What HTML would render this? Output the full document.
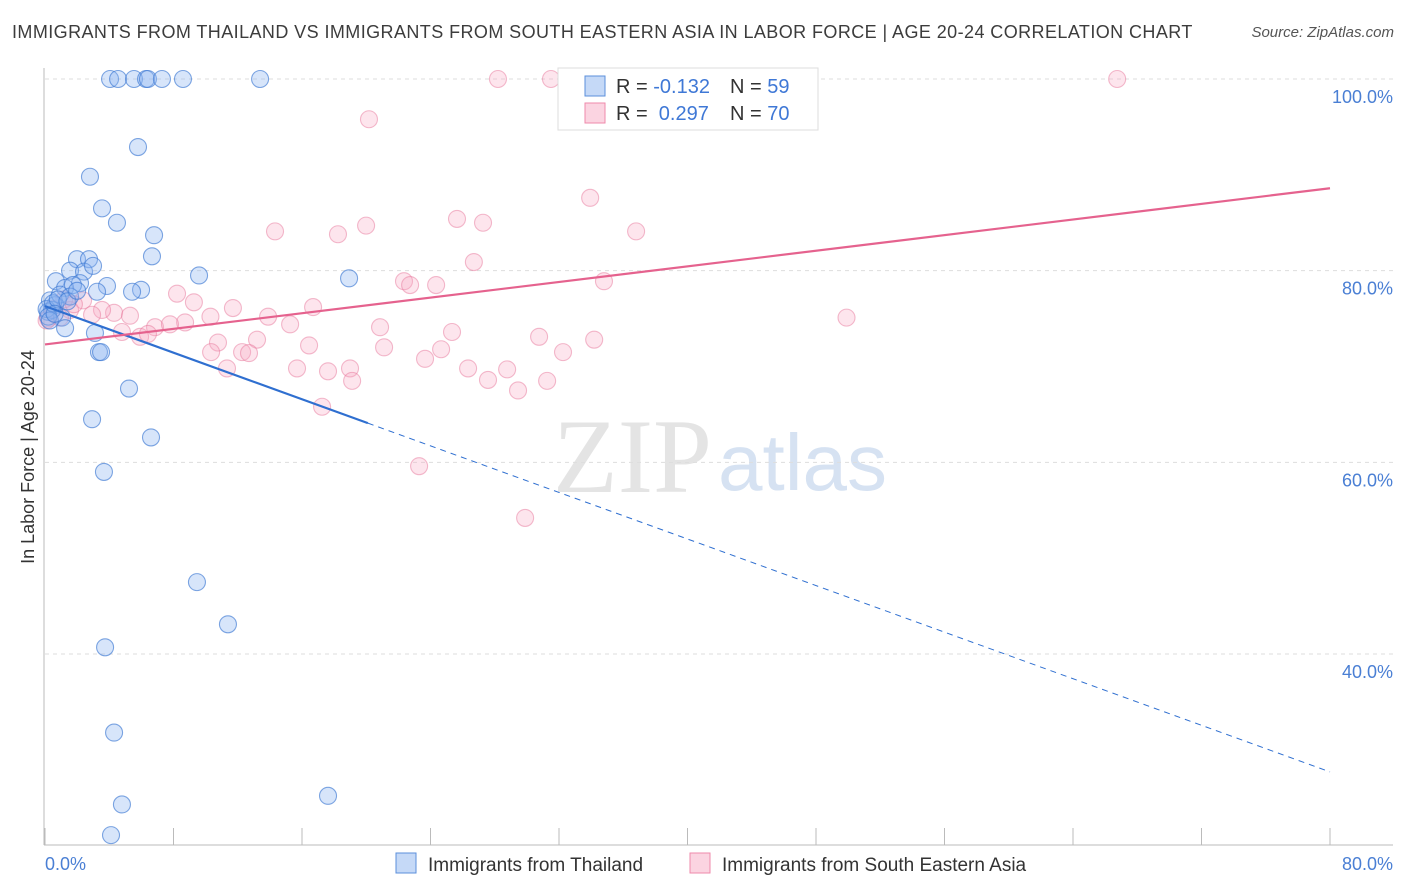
<!DOCTYPE html>
<html><head><meta charset="utf-8"><style>
body{margin:0;background:#fff;font-family:"Liberation Sans",sans-serif}
#wrap{position:relative;width:1406px;height:892px;overflow:hidden}
.t{position:absolute;white-space:nowrap}
</style></head><body>
<div id="wrap">
<div class="t" style="left:12px;top:22px;font-size:18px;color:#3c3c3c;letter-spacing:0.42px">IMMIGRANTS FROM THAILAND VS IMMIGRANTS FROM SOUTH EASTERN ASIA IN LABOR FORCE | AGE 20-24 CORRELATION CHART</div>
<div class="t" style="right:12px;top:24px;font-size:15px;color:#555;font-style:italic">Source: ZipAtlas.com</div>
<svg id="svg" width="1406" height="892" style="position:absolute;left:0;top:0"></svg>
</div>
<script>
const yTicks=[100,80,60,40];
const yTickLabels=["100.0%","80.0%","60.0%","40.0%"];
const xLabels=["0.0%","80.0%"];
const blueX=[4.05,4.55,5.54,6.29,6.41,7.28,8.59,13.39,5.79,2.8,3.55,4.48,6.79,6.66,1.99,2.74,1.56,2.43,2.99,9.59,18.93,0.68,2.18,1.25,1.74,3.86,5.98,5.42,3.24,0.31,0.62,0.93,0.19,1.06,0.44,1.56,1.25,3.11,3.36,3.49,5.23,2.93,6.6,3.67,9.46,11.39,3.74,4.3,4.79,4.11,17.62,0.1,0.2,0.5,0.8,1.4,0.3,2.0,0.6];
const blueY=[100,100,100,100,100,100,100,100,92.9,89.8,86.5,85.0,83.7,81.5,81.2,81.2,80.0,79.9,80.5,79.5,79.2,78.9,78.7,78.2,78.5,78.4,78.0,77.8,77.8,76.9,76.4,77.5,75.7,75.1,75.9,77.3,74.0,73.5,71.5,71.5,67.7,64.5,62.6,59.0,47.5,43.1,40.7,31.8,24.3,21.1,25.2,76.0,75.2,76.6,77.0,76.8,74.8,77.9,75.5];
const pinkX=[28.2,31.5,32.9,66.75,20.17,33.94,25.65,27.27,19.99,18.24,14.32,36.8,26.7,22.35,22.73,24.35,34.8,8.22,9.27,2.37,11.7,16.69,10.3,13.89,49.9,4.3,5.29,3.55,2.93,1.56,0.93,8.72,15.26,20.86,4.79,6.85,7.78,5.92,6.41,25.34,30.76,34.19,10.77,13.2,16.44,21.11,10.34,12.27,12.7,24.66,32.25,23.66,11.33,15.69,18.99,17.62,26.34,28.77,19.12,27.58,31.26,29.45,17.25,23.29,29.89,0.2,0.5,1.2,0.1,1.8];
const pinkY=[100,100,100,100,95.8,87.6,85.4,85.0,84.7,83.8,84.1,84.1,80.9,78.9,78.5,78.5,78.9,77.6,76.7,76.9,76.1,76.2,75.2,75.2,75.1,75.6,75.3,75.9,75.4,75.9,75.1,74.6,74.4,74.1,73.6,74.1,74.4,73.1,73.4,73.6,73.1,72.8,72.5,72.8,72.2,72.0,71.5,71.5,71.4,71.8,71.5,70.8,69.8,69.8,69.8,69.5,69.8,69.7,68.5,68.6,68.5,67.5,65.8,59.6,54.2,75.0,76.0,77.0,74.8,76.5];
const blueTrend=[76.3,27.7];
const pinkTrend=[72.3,88.6];
const blueSolidEnd=20.1;
const X=v=>45+v*(1330-45)/80;
const Y=v=>79+(100-v)*(654-79)/60;
const svg=document.getElementById('svg');const NS='http://www.w3.org/2000/svg';
function mk(t,a){const e=document.createElementNS(NS,t);for(const k in a)e.setAttribute(k,a[k]);svg.appendChild(e);return e;}
let w=mk('text',{x:553,y:492,'font-size':106,'font-family':'Liberation Serif,serif',fill:'#e4e4e4'});w.textContent='ZIP';


w=mk('text',{x:718,y:490,'font-size':80,'font-family':'Liberation Sans,sans-serif',fill:'#d6e2f2'});w.textContent='atlas';


yTicks.forEach((v,i)=>{const l=mk('line',{x1:45,x2:1393,y1:Y(v),y2:Y(v),stroke:'#ddd','stroke-dasharray':'4,4'});


const t=mk('text',{x:1393,y:Y(v)+24,'text-anchor':'end','font-size':18,fill:'#4a7fd4'});t.textContent=yTickLabels[i];

});
let ax=mk('line',{x1:44,x2:44,y1:68,y2:845,stroke:'#bbb'});


ax=mk('line',{x1:44,x2:1393,y1:845,y2:845,stroke:'#bbb'});


for(let i=0;i<=10;i++){const tk=mk('line',{x1:X(i*8),x2:X(i*8),y1:828,y2:845,stroke:'#bbb'});

}
let xl=mk('text',{x:45,y:870,'font-size':18,fill:'#4a7fd4'});xl.textContent=xLabels[0];


xl=mk('text',{x:1393,y:870,'text-anchor':'end','font-size':18,fill:'#4a7fd4'});xl.textContent=xLabels[1];


let yt=mk('text',{x:34,y:457,'font-size':18,fill:'#333',transform:'rotate(-90 34 457)','text-anchor':'middle'});yt.textContent='In Labor Force | Age 20-24';


pinkX.forEach((x,i)=>{const c=mk('circle',{cx:X(x),cy:Y(pinkY[i]),r:8.5,fill:'rgba(248,170,195,0.3)',stroke:'rgba(232,120,155,0.5)','stroke-width':1.1});

});
blueX.forEach((x,i)=>{const c=mk('circle',{cx:X(x),cy:Y(blueY[i]),r:8.5,fill:'rgba(140,180,240,0.35)',stroke:'rgba(60,120,210,0.65)','stroke-width':1.1});

});
const bAt=x=>blueTrend[0]+(blueTrend[1]-blueTrend[0])*x/80;
let tl=mk('line',{x1:X(0),y1:Y(bAt(0)),x2:X(blueSolidEnd),y2:Y(bAt(blueSolidEnd)),stroke:'#2f6fd0','stroke-width':2.2});


tl=mk('line',{x1:X(blueSolidEnd),y1:Y(bAt(blueSolidEnd)),x2:X(80),y2:Y(bAt(80)),stroke:'#2f6fd0','stroke-width':1,'stroke-dasharray':'6,5'});


tl=mk('line',{x1:X(0),y1:Y(pinkTrend[0]),x2:X(80),y2:Y(pinkTrend[1]),stroke:'#e5628e','stroke-width':2.2});


let g=mk('rect',{x:558,y:68,width:260,height:62,fill:'#fff',stroke:'#ddd'});


[[86,'rgba(140,180,240,0.5)','#5b8fdb','-0.132','59'],[113,'rgba(248,170,195,0.5)','#ef8aab',' 0.297','70']].forEach(r=>{
const s=mk('rect',{x:585,y:r[0]-10,width:20,height:20,fill:r[1],stroke:r[2]});


const t=mk('text',{x:616,y:r[0]+7,'font-size':20,fill:'#333'});
t.innerHTML='R = <tspan fill="#3f78d6" xml:space="preserve">'+r[3]+'</tspan><tspan x="730">N = </tspan><tspan fill="#3f78d6">'+r[4]+'</tspan>';

});
[[396,'rgba(140,180,240,0.5)','#5b8fdb','Immigrants from Thailand'],[690,'rgba(248,170,195,0.5)','#ef8aab','Immigrants from South Eastern Asia']].forEach(r=>{
const s=mk('rect',{x:r[0],y:853,width:20,height:20,fill:r[1],stroke:r[2]});


const t=mk('text',{x:r[0]+32,y:871,'font-size':19,fill:'#333'});t.textContent=r[3];

});
</script>
</body></html>
